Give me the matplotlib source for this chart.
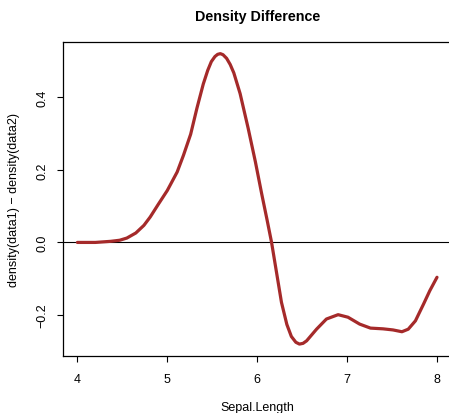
import matplotlib.pyplot as plt

# =========================
# Datos
# =========================

sepal_length = [4.00, 4.20, 4.37, 4.47, 4.55, 4.65, 4.74, 4.81, 4.90, 5.00, 5.11, 5.18,
                 5.26, 5.33, 5.40, 5.45, 5.49, 5.53, 5.56, 5.59, 5.62, 5.66, 5.70, 5.74,
                 5.81, 5.90, 5.98, 6.05, 6.11, 6.16, 6.20, 6.27, 6.33, 6.38, 6.43, 6.47,
                 6.51, 6.55, 6.66, 6.77, 6.90, 7.01, 7.14, 7.26, 7.40, 7.51, 7.61, 7.68,
                 7.76, 7.85, 7.92, 8.00]
dens_diff = [0.000, 0.000, 0.003, 0.006, 0.012, 0.026, 0.047, 0.070, 0.105, 0.143, 0.194, 0.240,
             0.298, 0.370, 0.436, 0.474, 0.498, 0.512, 0.518, 0.520, 0.517, 0.507, 0.490, 0.467,
             0.410, 0.314, 0.222, 0.134, 0.062, 0.000, -0.060, -0.165, -0.226, -0.259, -0.275, -0.280,
             -0.278, -0.271, -0.239, -0.211, -0.199, -0.206, -0.225, -0.236, -0.238, -0.241, -0.246, -0.239,
             -0.216, -0.170, -0.133, -0.096]

x_ticks = [4, 5, 6, 7, 8]
y_ticks = [-0.2, 0.0, 0.2, 0.4]

plt.rcParams["font.family"] = ["Liberation Sans", "DejaVu Sans"]

fig = plt.figure(figsize=(4.49, 4.14), dpi=100)
ax = fig.add_axes([0.1403, 0.1384, 0.8650, 0.7577])

# Línea en cero (abline h = 0)
ax.axhline(0, color="black", linewidth=0.8, zorder=1)
ax.plot(sepal_length, dens_diff, color="#A52A2A", linewidth=2.3,
        solid_capstyle="round", solid_joinstyle="round", zorder=2)

# Rangos estilo R (4% de margen)
xr = max(sepal_length) - min(sepal_length)
yr = max(dens_diff) - min(dens_diff)
ax.set_xlim(min(sepal_length) - 0.04 * xr, max(sepal_length) + 0.04 * xr)
ax.set_ylim(min(dens_diff) - 0.04 * yr, max(dens_diff) + 0.04 * yr)

ax.set_xticks(x_ticks)
ax.set_xticklabels([str(v) for v in x_ticks])
ax.set_yticks(y_ticks)
ax.set_yticklabels(["\u22120.2", "0.0", "0.2", "0.4"], rotation=90, va="center")

ax.tick_params(axis="both", direction="out", length=4.3, width=0.8, labelsize=9)
ax.tick_params(axis="x", pad=8)
ax.tick_params(axis="y", pad=6)
ax.spines["right"].set_visible(False)
for s in ax.spines.values():
    s.set_linewidth(0.9)

ax.set_xlabel("Sepal.Length", fontsize=9, labelpad=11.5)
ax.set_ylabel("density(data1) \u2212 density(data2)", fontsize=9, labelpad=12)
ax.set_title("Density Difference", fontsize=10.3, fontweight="bold", pad=16)

fig.savefig("out.png", dpi=100)
